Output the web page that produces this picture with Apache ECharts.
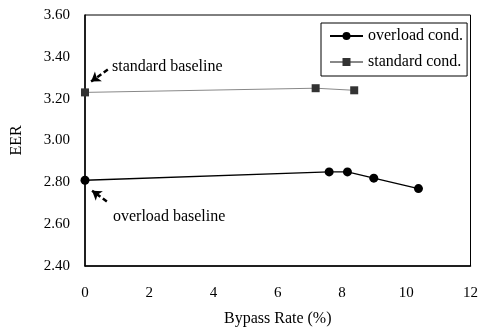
<!DOCTYPE html>
<html>
<head>
<meta charset="utf-8">
<script src="https://cdn.jsdelivr.net/npm/echarts@6/dist/echarts.min.js"></script>
<style>
html,body{margin:0;padding:0;background:#fff;}
#chart{width:481px;height:332px;}
</style>
</head>
<body>
<div id="chart"></div>
<script>
//数据
var overloadX = [0, 7.6, 8.17, 8.99, 10.38];
var overloadY = [2.81, 2.85, 2.85, 2.82, 2.77];
var standardX = [0, 7.18, 8.38];
var standardY = [3.23, 3.25, 3.24];

//注释文字和箭头（数据坐标）
var noteText = ['standard baseline', 'overload baseline'];
var notePos = [[0.84, 3.35], [0.87, 2.637]];
var arrowFrom = [[0.71, 3.339], [0.68, 2.708]];
var arrowTo = [[0.19, 3.282], [0.22, 2.76]];

var font = 'Liberation Serif, Times New Roman, serif';

function pairs(xs, ys) {
    var out = [];
    for (var i = 0; i < xs.length; i++) {
        out.push([xs[i], ys[i]]);
    }
    return out;
}

var arrowLines = [];
for (var i = 0; i < arrowFrom.length; i++) {
    arrowLines.push([{coord: arrowFrom[i]}, {coord: arrowTo[i]}]);
}
var notes = [];
for (var i = 0; i < noteText.length; i++) {
    notes.push({coord: notePos[i], value: noteText[i]});
}

var myChart = echarts.init(document.getElementById('chart'));

var option = {
    animation: false,
    textStyle: {fontFamily: font},
    grid: {
        left: 85, right: 8, top: 15, bottom: 64,
        show: true, borderColor: '#000', borderWidth: 1
    },
    legend: {
        orient: 'vertical',
        left: 321, top: 23,
        padding: [4, 4, 5, 8],
        borderColor: '#000', borderWidth: 1,
        itemWidth: 33, itemHeight: 10, itemGap: 8,
        textStyle: {fontFamily: font, fontSize: 16, color: '#000', lineHeight: 18},
        data: ['overload cond.', 'standard cond.']
    },
    xAxis: {
        type: 'value',
        min: 0, max: 12, interval: 2,
        name: 'Bypass Rate (%)',
        nameLocation: 'middle', nameGap: 45,
        nameTextStyle: {fontFamily: font, fontSize: 16, color: '#000'},
        axisLine: {lineStyle: {color: '#000', width: 1.5}},
        axisTick: {show: false},
        splitLine: {show: false},
        axisLabel: {fontFamily: font, fontSize: 15, color: '#000', margin: 20}
    },
    yAxis: {
        type: 'value',
        min: 2.4, max: 3.6, interval: 0.2,
        name: 'EER',
        nameLocation: 'middle', nameGap: 60,
        nameTextStyle: {fontFamily: font, fontSize: 16, color: '#000'},
        axisLine: {show: true, lineStyle: {color: '#000', width: 1.5}},
        axisTick: {show: false},
        splitLine: {show: false},
        axisLabel: {
            fontFamily: font, fontSize: 15, color: '#000', margin: 15,
            formatter: function (v) { return v.toFixed(2); }
        }
    },
    series: [
        {
            name: 'overload cond.',
            type: 'line',
            data: pairs(overloadX, overloadY),
            symbol: 'circle', symbolSize: 9,
            itemStyle: {color: '#000'},
            lineStyle: {color: '#000', width: 1.3},
            markLine: {
                silent: true,
                symbol: ['none', 'arrow'],
                symbolSize: 9,
                label: {show: false},
                lineStyle: {color: '#000', width: 2.5, type: [5, 3]},
                data: arrowLines
            },
            markPoint: {
                silent: true,
                symbol: 'circle', symbolSize: 0,
                label: {
                    show: true, position: 'right', distance: 0,
                    fontFamily: font, fontSize: 16, color: '#000',
                    formatter: function (p) { return p.value; }
                },
                data: notes
            }
        },
        {
            name: 'standard cond.',
            type: 'line',
            data: pairs(standardX, standardY),
            symbol: 'rect', symbolSize: 8,
            itemStyle: {color: '#333'},
            lineStyle: {color: '#888', width: 1}
        }
    ]
};

myChart.setOption(option);
</script>
</body>
</html>
